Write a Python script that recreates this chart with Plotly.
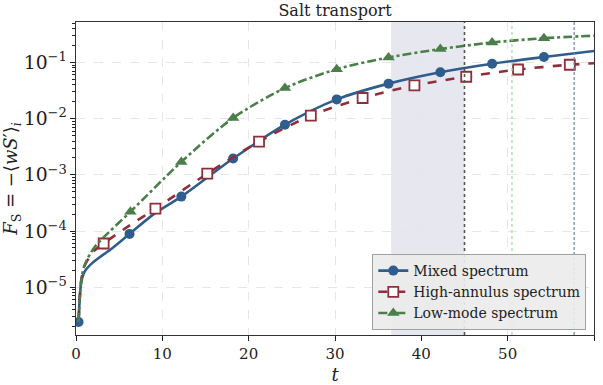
import plotly.graph_objects as go

# ---- data ----
mixed_t = [0.3, 0.6, 1, 2, 4, 6.2, 9.2, 12.2, 18.2, 24.2, 30.2, 36.2, 42.2, 48.2, 54.2, 60]
mixed_f = [2.4e-6, 1.2e-5, 1.9e-5, 2.8e-5, 4.7e-5, 8.9e-5, 2.1e-4, 4.1e-4, 1.95e-3, 7.8e-3,
           0.022, 0.042, 0.067, 0.095, 0.125, 0.16]
mixed_mk_t = [0.3, 6.2, 12.2, 18.2, 24.2, 30.2, 36.2, 42.2, 48.2, 54.2]
mixed_mk_f = [2.4e-6, 8.9e-5, 4.1e-4, 1.95e-3, 7.8e-3, 0.022, 0.042, 0.067, 0.095, 0.125]

high_t = [0.3, 0.6, 1, 2, 3.2, 6, 9.2, 15.2, 21.2, 27.2, 33.2, 39.2, 45.2, 51.2, 57.2, 60]
high_f = [2.6e-6, 1.3e-5, 2.4e-5, 4.3e-5, 6.0e-5, 1.2e-4, 2.5e-4, 1.05e-3, 3.9e-3, 0.0113,
          0.0233, 0.039, 0.0557, 0.075, 0.091, 0.097]
high_mk_t = [3.2, 9.2, 15.2, 21.2, 27.2, 33.2, 39.2, 45.2, 51.2, 57.2]
high_mk_f = [6.0e-5, 2.5e-4, 1.05e-3, 3.9e-3, 0.0113, 0.0233, 0.039, 0.0557, 0.075, 0.091]

low_t = [0.3, 0.6, 1, 2, 3, 6.3, 12.2, 18.2, 24.2, 30.2, 36.2, 42.2, 48.2, 54.2, 60]
low_f = [2.4e-6, 1.3e-5, 2.5e-5, 4.8e-5, 7.2e-5, 2.2e-4, 1.7e-3, 0.0103, 0.035, 0.076,
         0.123, 0.173, 0.227, 0.27, 0.30]
low_mk_t = [6.3, 12.2, 18.2, 24.2, 30.2, 36.2, 42.2, 48.2, 54.2]
low_mk_f = [2.2e-4, 1.7e-3, 0.0103, 0.035, 0.076, 0.123, 0.173, 0.227, 0.27]

shade_range = [36.5, 45.0]
vlines = [45.0, 50.5, 57.7]

FONT = "DejaVu Serif"
BLUE = "#2f5d8e"
RED = "#8e2f3a"
GREEN = "#4a7f4a"

fig = go.Figure()

series = [
    ("Mixed spectrum", mixed_t, mixed_f, mixed_mk_t, mixed_mk_f, BLUE, "solid",
     dict(symbol="circle", size=10, color=BLUE, line=dict(width=0))),
    ("High-annulus spectrum", high_t, high_f, high_mk_t, high_mk_f, RED, "dash",
     dict(symbol="square", size=10, color="white", line=dict(width=1.8, color=RED))),
    ("Low-mode spectrum", low_t, low_f, low_mk_t, low_mk_f, GREEN, "dashdot",
     dict(symbol="triangle-up", size=11, color=GREEN, line=dict(width=0))),
]

for name, t, f, mt, mf, col, dash, mk in series:
    fig.add_trace(go.Scatter(x=t, y=f, mode="lines",
                             line=dict(color=col, width=2.6, dash=dash, shape="spline", smoothing=0.8),
                             showlegend=False, hoverinfo="skip"))
    fig.add_trace(go.Scatter(x=mt, y=mf, mode="markers", marker=mk, showlegend=False))
    fig.add_trace(go.Scatter(x=[None], y=[None], mode="lines+markers", name=name,
                             line=dict(color=col, width=2.6, dash=dash), marker=mk))

fig.add_vrect(x0=shade_range[0], x1=shade_range[1], fillcolor="#e7e7ef", line_width=0, layer="below")
fig.add_vline(x=vlines[0], line=dict(color="#555555", width=1.6, dash="dot"))
fig.add_vline(x=vlines[1], line=dict(color="#a6d4a6", width=1.2, dash="dot"))
fig.add_vline(x=vlines[2], line=dict(color="#6f83a0", width=1.2, dash="3px,2px"))

fig.update_layout(
    width=603, height=385,
    margin=dict(l=76, r=9, t=22, b=50),
    paper_bgcolor="white", plot_bgcolor="white",
    font=dict(family=FONT, size=15, color="#222"),
    title=dict(text="Salt transport", x=0.5, xref="paper", xanchor="center", y=0.972, yanchor="middle",
               font=dict(family=FONT, size=16, color="#222")),
    legend=dict(x=0.572, y=0.016, xanchor="left", yanchor="bottom",
                bgcolor="rgba(235,235,235,0.92)", bordercolor="#a0a0a0", borderwidth=1,
                font=dict(family=FONT, size=14, color="#222"), tracegroupgap=0),
)
fig.update_xaxes(range=[0, 60], dtick=10, ticks="outside", ticklen=5, tickcolor="#222",
                 showline=True, linecolor="#333", linewidth=1.2, mirror=True,
                 showgrid=True, gridcolor="#e6e6e6", griddash="dash", zeroline=False,
                 tickfont=dict(family=FONT, size=15), automargin=False,
                 title=dict(text="<i>t</i>", font=dict(family=FONT, size=18), standoff=8))
fig.update_yaxes(type="log", range=[-5.85, -0.28], dtick=1, exponentformat="power", showexponent="all",
                 ticks="outside", ticklen=5, tickcolor="#222",
                 minor=dict(ticks="outside", ticklen=2.5, tickcolor="#222", dtick="D1", showgrid=False),
                 showline=True, linecolor="#333", linewidth=1.2, mirror=True,
                 showgrid=True, gridcolor="#e6e6e6", griddash="dash", zeroline=False,
                 tickfont=dict(family=FONT, size=15), automargin=False,
                 title=dict(text="<i>F</i><sub>S</sub> = −⟨<i>wS</i>′⟩<sub><i>i</i></sub>",
                            font=dict(family=FONT, size=18), standoff=2))

fig.write_html("out.html")
